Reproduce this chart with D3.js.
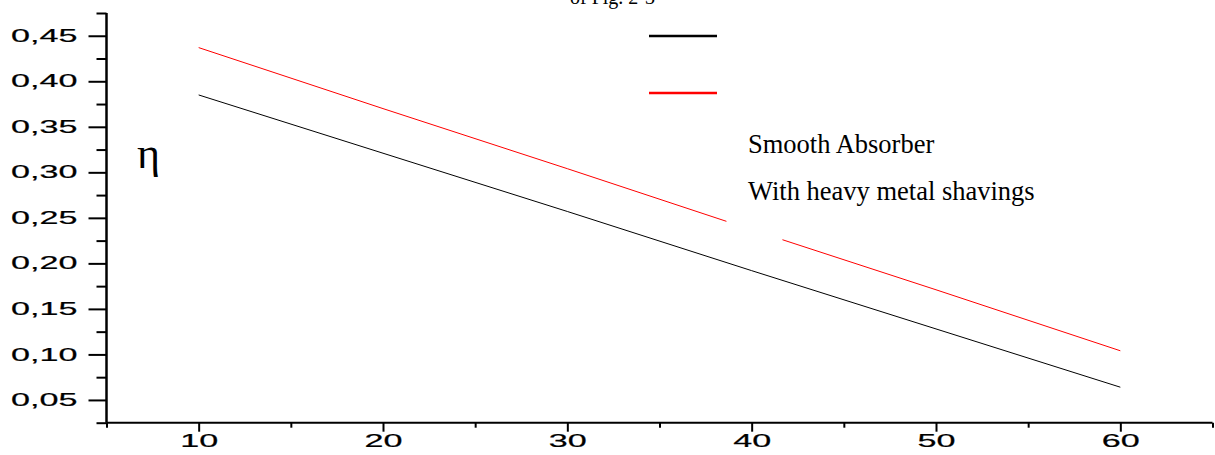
<!DOCTYPE html>
<html>
<head>
<meta charset="utf-8">
<script src="https://cdn.jsdelivr.net/npm/d3@7"></script>
<style>
  body { margin: 0; background: #fff; }
  svg { display: block; }
  .tick text { font-family: "Liberation Sans", Arial, sans-serif; font-size: 17.5px; fill: #000; stroke: #000; stroke-width: 0.2px; }
  .serif { font-family: "Liberation Serif", "Times New Roman", serif; fill: #000; }
</style>
</head>
<body>
<div id="chart"></div>
<script>
// x values (temperature difference)
const xValues = [10, 20, 30, 40, 50, 60];
// efficiency, smooth absorber (black)
const smooth = [0.385, 0.321, 0.257, 0.192, 0.128, 0.064];
// efficiency, with heavy metal shavings (red)
const shavings = [0.437, 0.370, 0.304, 0.237, 0.171, 0.104];

const xMajor = [10, 20, 30, 40, 50, 60];
const xMinor = [5, 15, 25, 35, 45, 55, 65];
const yMajor = [0.05, 0.10, 0.15, 0.20, 0.25, 0.30, 0.35, 0.40, 0.45];
const yMinor = [0.025, 0.075, 0.125, 0.175, 0.225, 0.275, 0.325, 0.375, 0.425, 0.475];

const seriesNames = ['Smooth Absorber', 'With heavy metal shavings'];
const seriesColors = ['#000', '#ff0000'];

const width = 1215, height = 455;
const stretch = 1.95; // tick labels in the picture are stretched sideways

const svg = d3.select('#chart').append('svg')
  .attr('width', width)
  .attr('height', height);

const x = d3.scaleLinear().domain([5, 65]).range([106.5, 1212.5]);
const y = d3.scaleLinear().domain([0.025, 0.475]).range([422.7, 13]);

// cut off title at the top edge
svg.append('text')
  .attr('class', 'serif')
  .attr('x', 655)
  .attr('y', 4)
  .attr('text-anchor', 'end')
  .style('font-size', '20px')
  .text('of Fig. 2-3');

// data lines
const line = d3.line()
  .x((d, i) => x(xValues[i]))
  .y(d => y(d));

[smooth, shavings].forEach((s, i) => {
  svg.append('path')
    .datum(s)
    .attr('fill', 'none')
    .attr('stroke', seriesColors[i])
    .attr('stroke-width', 1)
    .attr('d', line);
});

// white patch that breaks the red line in the original
svg.append('rect')
  .attr('x', x(38.63))
  .attr('y', y(0.262))
  .attr('width', x(41.67) - x(38.63))
  .attr('height', y(0.215) - y(0.262))
  .attr('fill', '#fff');

// x axis
const xAxis = svg.append('g')
  .attr('transform', `translate(0,${y(0.025)})`)
  .call(d3.axisBottom(x).tickValues(xMajor).tickSize(9).tickFormat(d3.format('d')));

svg.append('g')
  .attr('transform', `translate(0,${y(0.025)})`)
  .call(d3.axisBottom(x).tickValues(xMinor).tickSize(5).tickFormat(''))
  .call(g => g.select('.domain').remove());

xAxis.selectAll('.tick text')
  .attr('y', 24)
  .attr('dy', 0)
  .attr('transform', `scale(${stretch},1)`);

// y axis
const yAxis = svg.append('g')
  .attr('transform', `translate(${x(5)},0)`)
  .call(d3.axisLeft(y).tickValues(yMajor).tickSize(18)
    .tickFormat(d => d3.format('.2f')(d).replace('.', ',')));

svg.append('g')
  .attr('transform', `translate(${x(5)},0)`)
  .call(d3.axisLeft(y).tickValues(yMinor).tickSize(10).tickFormat(''))
  .call(g => g.select('.domain').remove());

yAxis.selectAll('.tick text')
  .attr('x', -29 / stretch)
  .attr('transform', `scale(${stretch},1)`);

svg.selectAll('.domain').attr('stroke-width', 2);
svg.selectAll('.tick line').attr('stroke', '#000').attr('stroke-width', 2);

// axis lines drawn plainly (no end caps)
xAxis.select('.domain')
  .attr('d', `M${x(5)},0H${x(65)}`);
yAxis.select('.domain')
  .attr('d', `M0,${y(0.475)}V${y(0.025)}`)
  .attr('stroke-width', 2.5);

// y label
svg.append('text')
  .attr('class', 'serif')
  .attr('x', 137)
  .attr('y', 168)
  .style('font-size', '44px')
  .text('η');

// legend
const legendLineY = [36, 93];
const legendTextY = [153, 200];

seriesNames.forEach((name, i) => {
  svg.append('line')
    .attr('x1', 649).attr('x2', 717)
    .attr('y1', legendLineY[i]).attr('y2', legendLineY[i])
    .attr('stroke', seriesColors[i])
    .attr('stroke-width', 2.5);

  svg.append('text')
    .attr('class', 'serif')
    .attr('x', 748)
    .attr('y', legendTextY[i])
    .style('font-size', '26.5px')
    .text(name);
});
</script>
</body>
</html>
